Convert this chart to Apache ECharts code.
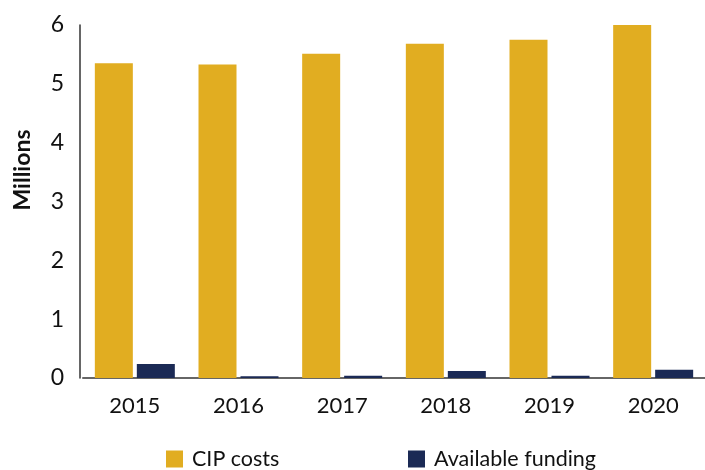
<!DOCTYPE html>
<html>
<head>
<meta charset="utf-8">
<script src="https://cdn.jsdelivr.net/npm/echarts@6/dist/echarts.min.js"></script>
<style>html,body{margin:0;padding:0;background:#fff}#c{width:705px;height:470px}</style>
</head>
<body>
<div id="c"></div>
<script>
const categories = ['2015', '2016', '2017', '2018', '2019', '2020'];
const cipCosts = [5.35, 5.33, 5.51, 5.68, 5.75, 6.0];
const availableFunding = [0.24, 0.03, 0.04, 0.12, 0.04, 0.14];
const yTicks = [0, 1, 2, 3, 4, 5, 6];

const FONT = 'Lato, "Open Sans", sans-serif';
const chart = echarts.init(document.getElementById('c'), null, {renderer: 'canvas'});
chart.setOption({
  animation: false,
  backgroundColor: '#ffffff',
  grid: {left: 83, right: -12, top: 25, bottom: 92, containLabel: false},
  legend: [
    {data: ['CIP costs'], left: 161, top: 443, itemWidth: 17, itemHeight: 17,
     icon: 'rect', textStyle: {fontFamily: FONT, fontSize: 21.5, color: '#111', padding: [0, 0, 0, 4]}},
    {data: ['Available funding'], left: 403, top: 443, itemWidth: 17, itemHeight: 17,
     icon: 'rect', textStyle: {fontFamily: FONT, fontSize: 21.5, color: '#111', padding: [0, 0, 0, 4]}}
  ],
  xAxis: {
    type: 'category',
    data: categories,
    axisLine: {lineStyle: {color: '#666', width: 2}},
    axisTick: {show: false},
    axisLabel: {fontFamily: FONT, fontSize: 22, color: '#111', margin: 17}
  },
  yAxis: {
    type: 'value',
    min: yTicks[0],
    max: yTicks[yTicks.length - 1],
    interval: 1,
    offset: 3,
    splitLine: {show: false},
    axisLine: {show: true, lineStyle: {color: '#333', width: 1.5}},
    axisTick: {show: false},
    axisLabel: {fontFamily: FONT, fontSize: 23, color: '#111', margin: 16}
  },
  graphic: [{
    type: 'text', x: 23, y: 170, rotation: Math.PI / 2,
    style: {text: 'Millions', font: 'bold 23px ' + FONT, fill: '#111',
            textAlign: 'center', textVerticalAlign: 'middle'}
  }],
  series: [
    {name: 'CIP costs', type: 'bar', data: cipCosts, barWidth: 38, barGap: '10.5%',
     itemStyle: {color: '#E1AD21'}},
    {name: 'Available funding', type: 'bar', data: availableFunding, barWidth: 38,
     itemStyle: {color: '#1B2A55'}}
  ]
});
</script>
</body>
</html>
